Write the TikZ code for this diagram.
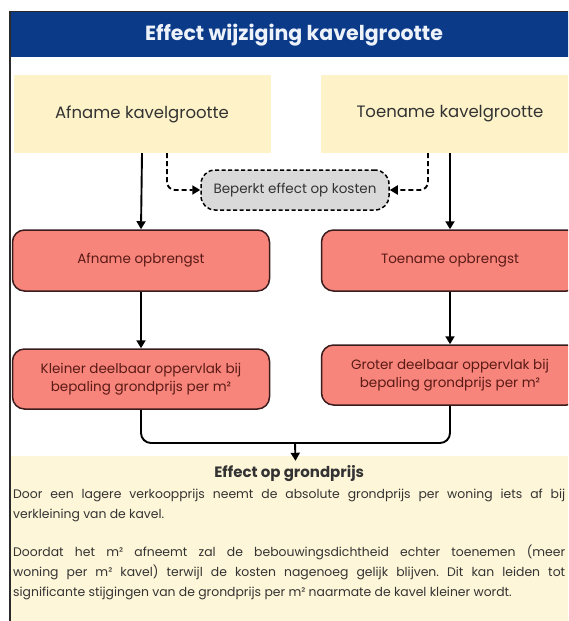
\documentclass[tikz,border=0pt]{standalone}
\usepackage{fontspec}
\setmainfont{Poppins}
\usetikzlibrary{arrows.meta}
\frenchspacing
\definecolor{hdrblue}{HTML}{0B3A88}
\definecolor{yelA}{HTML}{FDF2C8}
\definecolor{yelB}{HTML}{FEF6D8}
\definecolor{redA}{HTML}{F8857B}
\definecolor{redB}{HTML}{3A1C1C}
\definecolor{redT}{HTML}{5A1A16}
\definecolor{grayA}{HTML}{D9D9D9}
\definecolor{txtD}{HTML}{333333}
\definecolor{frameC}{HTML}{2A2A2A}
\definecolor{titleT}{HTML}{EEF2FA}
\tikzset{
  ybox/.style={fill=yelA, inner sep=0pt, minimum width=257pt, minimum height=78pt, text=txtD, font=\fontsize{16.5}{20}\selectfont},
  rbox/.style={fill=redA, draw=redB, line width=1.5pt, rounded corners=12pt, inner sep=0pt, minimum width=257pt, text=redT, align=center, font=\fontsize{13.5}{18}\selectfont},
  gbox/.style={fill=grayA, draw=black, line width=1.5pt, dash pattern=on 4pt off 2.5pt, rounded corners=14pt, inner sep=0pt, minimum width=188pt, minimum height=40pt, text=txtD, font=\fontsize{13.5}{16}\selectfont},
  arr/.style={draw=black, line width=1.9pt, -{Triangle[length=8pt,width=9pt]}},
  darr/.style={arr, dash pattern=on 5pt off 3pt, rounded corners=8pt},
  conn/.style={draw=black, line width=1.9pt, rounded corners=10pt}
}
\begin{document}
\begin{tikzpicture}[x=1pt,y=-1pt]
\useasboundingbox (0,0) rectangle (568,621);
\clip (0,0) rectangle (568,621);
\fill[white] (0,0) rectangle (568,621);
% header
\fill[hdrblue] (10,12) rectangle (600,57);
\draw[frameC, line width=1.2pt] (10,621) -- (10,11.5) -- (600,11.5);
\node[text=titleT, font=\bfseries\fontsize{20.5}{24}\selectfont] (title) at (294,35) {Effect wijziging kavelgrootte};
% top boxes
\node[ybox] (ly) at (142,114) {Afname kavelgrootte};
\node[ybox, minimum width=258pt] (ry) at (450,114) {Toename kavelgrootte};
\node[gbox] (gb) at (295,190) {Beperkt effect op kosten};
% red row 1
\node[rbox, minimum height=61pt] (lr1) at (141,260.5) {Afname opbrengst};
\node[rbox, minimum height=61pt] (rr1) at (450,260.5) {Toename opbrengst};
% red row 2
\node[rbox, minimum height=60pt] (lr2) at (141,379) {Kleiner deelbaar oppervlak bij\\bepaling grondprijs per m²};
\node[rbox, minimum height=60pt] (rr2) at (450,375) {Groter deelbaar oppervlak bij\\bepaling grondprijs per m²};
% bottom box
\node[fill=yelB, inner sep=0pt, minimum width=569pt, minimum height=170pt] (bot) at (295.5,541) {};
\node[anchor=north west, inner sep=0pt, text width=552pt, align=justify, text=txtD, font=\fontsize{12.4}{20}\selectfont] (bt) at (13,465) {%
\centerline{\bfseries\fontsize{15}{22}\selectfont Effect op grondprijs}\vspace{1pt}
Door een lagere verkoopprijs neemt de absolute grondprijs per woning iets af bij\linebreak verkleining van de kavel.\par
\vspace{18pt}
Doordat het m² afneemt zal de bebouwingsdichtheid echter toenemen (meer\linebreak woning per m² kavel) terwijl de kosten nagenoeg gelijk blijven. Dit kan leiden tot\linebreak significante stijgingen van de grondprijs per m² naarmate de kavel kleiner wordt.\par};
% connectors
\draw[arr] (ly.south) -- (lr1.north);
\draw[arr] (ry.south) -- (rr1.north);
\draw[darr] ([xshift=25pt]ly.south) |- (gb.west);
\draw[darr] ([xshift=-22pt]ry.south) |- (gb.east);
\draw[arr] (lr1.south) -- (lr2.north);
\draw[arr] (rr1.south) -- (rr2.north);
\coordinate (mid) at (295,443);
\draw[conn] (lr2.south) |- (mid) -| (rr2.south);
\draw[arr] (mid) -- ([yshift=-5pt]bot.north);
\end{tikzpicture}
\end{document}
